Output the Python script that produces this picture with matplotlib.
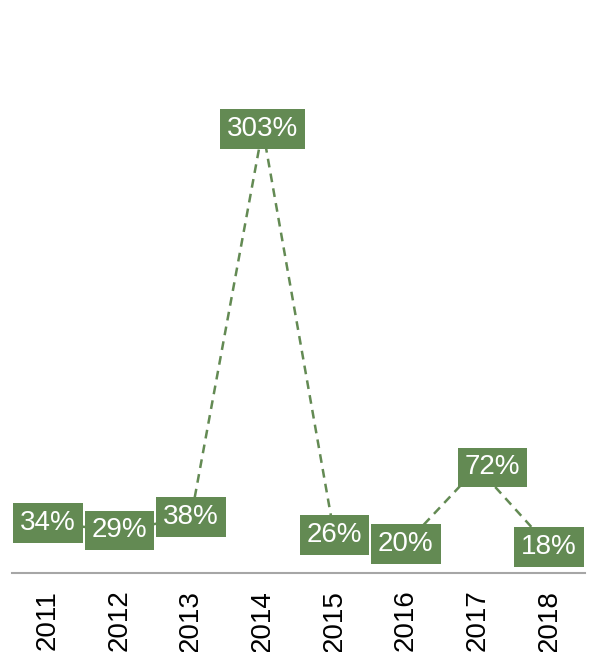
import matplotlib.pyplot as plt
import numpy as np

years = ["2011", "2012", "2013", "2014", "2015", "2016", "2017", "2018"]
growth = [34, 29, 38, 303, 26, 20, 72, 18]
labels = ["34%", "29%", "38%", "303%", "26%", "20%", "72%", "18%"]
# the 2017 label sits a bit right of its point in the original
label_dx = [0, 0, 0, 0, 0, 0, 0.21, 0]

green = "#638A53"

plt.rcParams["font.family"] = ["Liberation Sans", "DejaVu Sans"]

fig = plt.figure(figsize=(5.91, 6.52), dpi=100)
ax = fig.add_axes([0.0203, 0.1212, 0.9695, 0.8788])

x = np.arange(len(years))
ax.plot(x, growth, color=green, linewidth=1.8, linestyle=(0, (3.5, 2.5)), zorder=2)

for xi, yi, lab, dx in zip(x, growth, labels, label_dx):
    ax.text(xi + dx, yi, lab, ha="center", va="center", color="white", fontsize=20,
            zorder=3,
            bbox=dict(boxstyle="square,pad=0.25", facecolor=green, edgecolor="none"))

ax.set_xlim(-0.5, len(years) - 0.5)
ax.set_ylim(0, 391)
ax.set_xticks(x)
ax.set_xticklabels(years, rotation=90, fontsize=20)
ax.tick_params(axis="x", length=0, pad=12)
ax.set_yticks([])
for side in ["top", "right", "left"]:
    ax.spines[side].set_visible(False)
ax.spines["bottom"].set_color("#A6A6A6")
ax.spines["bottom"].set_linewidth(1.5)
ax.patch.set_visible(False)

fig.savefig("out.png", dpi=100)
